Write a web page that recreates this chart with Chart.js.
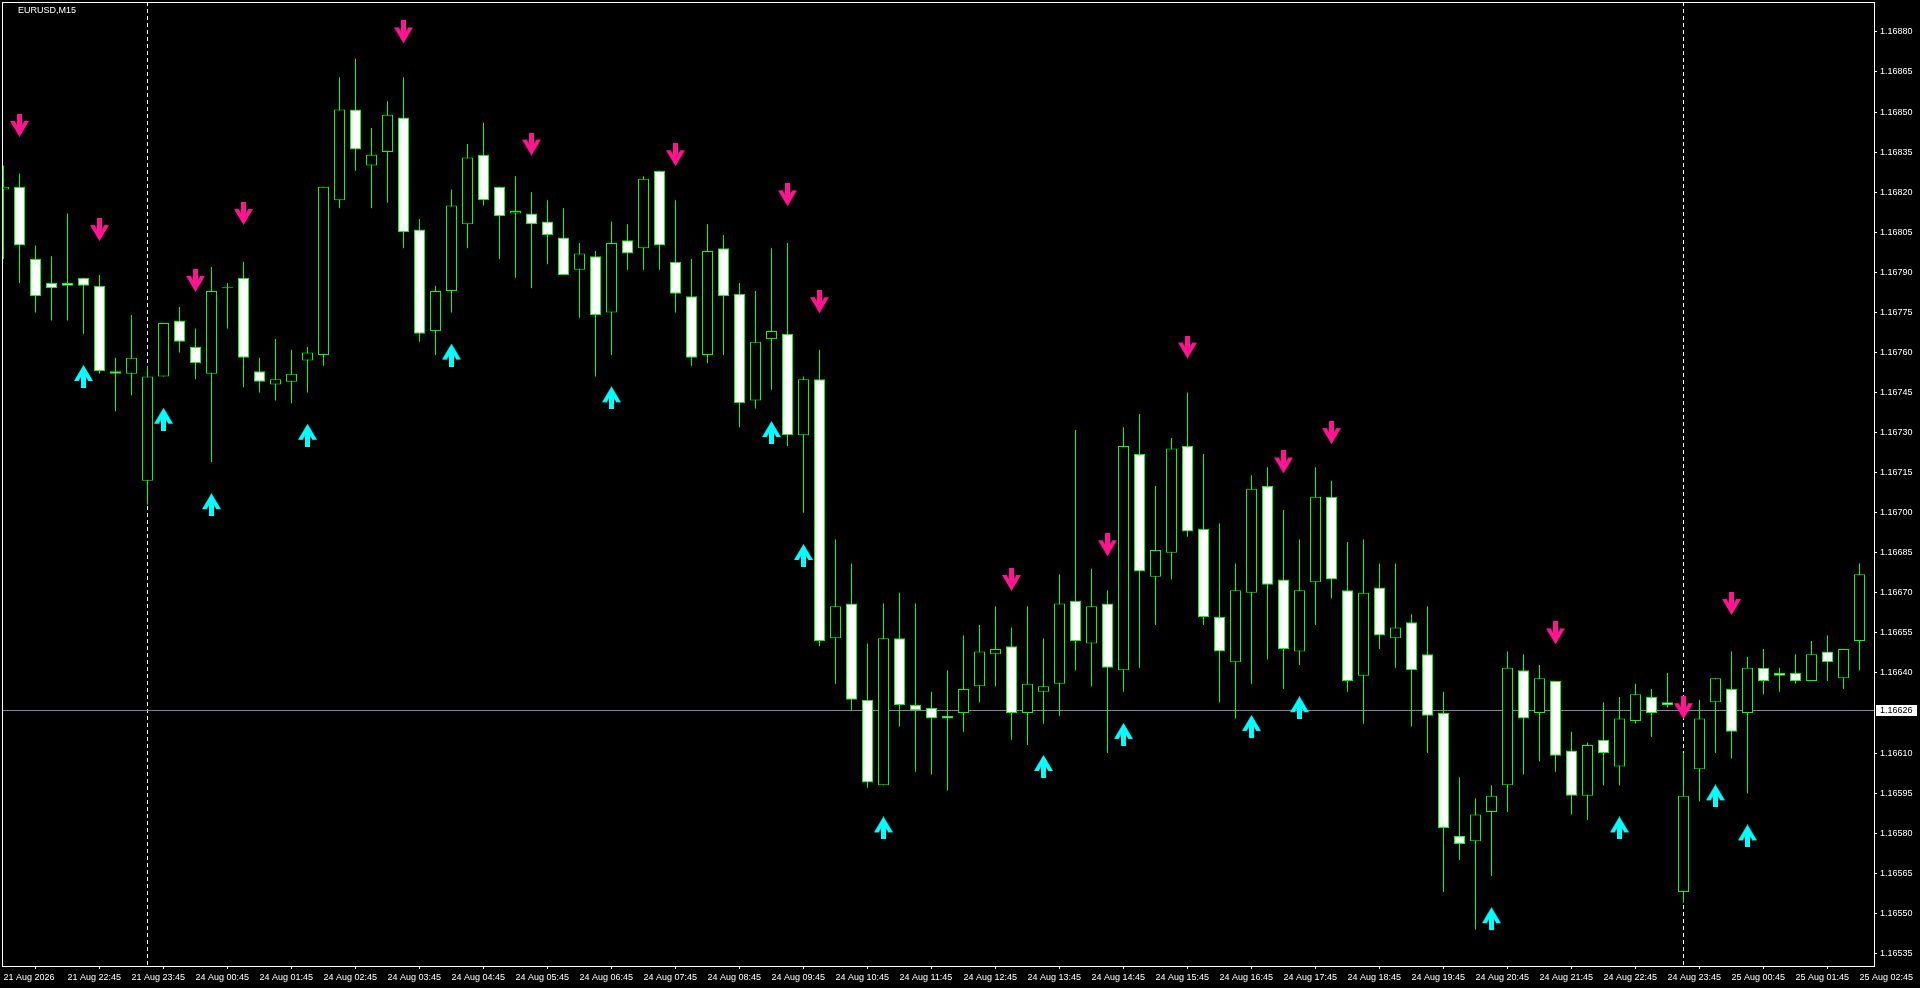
<!DOCTYPE html>
<html>
<head>
<meta charset="utf-8">
<title>EURUSD,M15</title>
<script src="https://cdn.jsdelivr.net/npm/chart.js@4.4.1/dist/chart.umd.min.js"></script>
<style>
  html, body { margin: 0; padding: 0; background: #000; overflow: hidden; }
  #wrap { width: 1920px; height: 988px; }
</style>
</head>
<body>
<div id="wrap"><canvas id="chart" width="1920" height="988"></canvas></div>
<script>
const symbolTitle = 'EURUSD,M15';

// one label every 4 bars (M15 -> hourly)
const timeLabels = ['21 Aug 2026', '21 Aug 22:45', '21 Aug 23:45', '24 Aug 00:45', '24 Aug 01:45', '24 Aug 02:45',
  '24 Aug 03:45', '24 Aug 04:45', '24 Aug 05:45', '24 Aug 06:45', '24 Aug 07:45', '24 Aug 08:45', '24 Aug 09:45',
  '24 Aug 10:45', '24 Aug 11:45', '24 Aug 12:45', '24 Aug 13:45', '24 Aug 14:45', '24 Aug 15:45', '24 Aug 16:45',
  '24 Aug 17:45', '24 Aug 18:45', '24 Aug 19:45', '24 Aug 20:45', '24 Aug 21:45', '24 Aug 22:45', '24 Aug 23:45',
  '25 Aug 00:45', '25 Aug 01:45', '25 Aug 02:45'];

const open = [1.16821, 1.16822, 1.16795, 1.16786, 1.16786, 1.16788, 1.16785, 1.16753, 1.16752, 1.16712,
  1.16751, 1.16772, 1.16762, 1.16752, 1.16784, 1.16788, 1.16753, 1.16748, 1.16749, 1.16757,
  1.16759, 1.16817, 1.16851, 1.16830, 1.16835, 1.16848, 1.16806, 1.16768, 1.16783, 1.16808,
  1.16834, 1.16822, 1.16812, 1.16812, 1.16809, 1.16803, 1.16791, 1.16796, 1.16775, 1.16802,
  1.16799, 1.16828, 1.16794, 1.16781, 1.16759, 1.16799, 1.16782, 1.16742, 1.16765, 1.16767,
  1.16729, 1.16750, 1.16653, 1.16666, 1.16630, 1.16598, 1.16653, 1.16628, 1.16627, 1.16624,
  1.16625, 1.16635, 1.16647, 1.16650, 1.16625, 1.16633, 1.16636, 1.16667, 1.16651, 1.16666,
  1.16641, 1.16722, 1.16676, 1.16685, 1.16725, 1.16694, 1.16661, 1.16644, 1.16670, 1.16710,
  1.16675, 1.16648, 1.16674, 1.16706, 1.16671, 1.16639, 1.16672, 1.16653, 1.16659, 1.16647,
  1.16625, 1.16579, 1.16577, 1.16588, 1.16598, 1.16641, 1.16625, 1.16637, 1.16611, 1.16594,
  1.16615, 1.16605, 1.16622, 1.16631, 1.16629, 1.16558, 1.16604, 1.16629, 1.16634, 1.16625,
  1.16642, 1.16640, 1.16640, 1.16637, 1.16648, 1.16638, 1.16652];

const high = [1.16830, 1.16827, 1.16800, 1.16796, 1.16812, 1.16788, 1.16789, 1.16758, 1.16774, 1.16755,
  1.16771, 1.16777, 1.16769, 1.16792, 1.16786, 1.16794, 1.16758, 1.16765, 1.16761, 1.16762,
  1.16822, 1.16863, 1.16870, 1.16844, 1.16854, 1.16863, 1.16810, 1.16785, 1.16821, 1.16838,
  1.16846, 1.16822, 1.16826, 1.16820, 1.16817, 1.16814, 1.16801, 1.16798, 1.16809, 1.16808,
  1.16826, 1.16828, 1.16817, 1.16795, 1.16808, 1.16804, 1.16786, 1.16783, 1.16799, 1.16801,
  1.16751, 1.16761, 1.16690, 1.16681, 1.16651, 1.16666, 1.16670, 1.16666, 1.16633, 1.16641,
  1.16654, 1.16658, 1.16665, 1.16657, 1.16665, 1.16653, 1.16677, 1.16731, 1.16679, 1.16671,
  1.16732, 1.16737, 1.16710, 1.16728, 1.16745, 1.16722, 1.16696, 1.16681, 1.16714, 1.16717,
  1.16701, 1.16690, 1.16717, 1.16712, 1.16689, 1.16690, 1.16681, 1.16681, 1.16662, 1.16665,
  1.16633, 1.16601, 1.16593, 1.16598, 1.16648, 1.16647, 1.16643, 1.16637, 1.16618, 1.16614,
  1.16629, 1.16631, 1.16636, 1.16634, 1.16640, 1.16610, 1.16630, 1.16638, 1.16648, 1.16646,
  1.16649, 1.16642, 1.16647, 1.16652, 1.16654, 1.16649, 1.16681];

const low = [1.16795, 1.16786, 1.16775, 1.16772, 1.16772, 1.16767, 1.16752, 1.16738, 1.16744, 1.16703,
  1.16751, 1.16760, 1.16750, 1.16719, 1.16769, 1.16747, 1.16745, 1.16742, 1.16741, 1.16745,
  1.16755, 1.16814, 1.16828, 1.16814, 1.16816, 1.16799, 1.16764, 1.16759, 1.16775, 1.16799,
  1.16815, 1.16795, 1.16788, 1.16784, 1.16793, 1.16789, 1.16773, 1.16751, 1.16759, 1.16791,
  1.16791, 1.16791, 1.16775, 1.16755, 1.16756, 1.16759, 1.16732, 1.16739, 1.16746, 1.16725,
  1.16700, 1.16650, 1.16636, 1.16626, 1.16597, 1.16598, 1.16620, 1.16603, 1.16602, 1.16596,
  1.16618, 1.16629, 1.16635, 1.16615, 1.16613, 1.16621, 1.16624, 1.16641, 1.16635, 1.16610,
  1.16633, 1.16642, 1.16658, 1.16675, 1.16691, 1.16658, 1.16629, 1.16623, 1.16636, 1.16645,
  1.16634, 1.16643, 1.16658, 1.16668, 1.16633, 1.16621, 1.16649, 1.16642, 1.16620, 1.16610,
  1.16558, 1.16570, 1.16544, 1.16564, 1.16588, 1.16602, 1.16607, 1.16603, 1.16587, 1.16585,
  1.16598, 1.16598, 1.16621, 1.16616, 1.16627, 1.16554, 1.16592, 1.16610, 1.16608, 1.16595,
  1.16632, 1.16633, 1.16636, 1.16637, 1.16637, 1.16634, 1.16641];

const close = [1.16822, 1.16800, 1.16781, 1.16784, 1.16785, 1.16785, 1.16753, 1.16752, 1.16758, 1.16751,
  1.16771, 1.16764, 1.16756, 1.16783, 1.16784, 1.16758, 1.16749, 1.16750, 1.16752, 1.16760,
  1.16822, 1.16851, 1.16836, 1.16834, 1.16849, 1.16805, 1.16767, 1.16783, 1.16815, 1.16833,
  1.16817, 1.16811, 1.16813, 1.16808, 1.16804, 1.16789, 1.16797, 1.16774, 1.16801, 1.16797,
  1.16825, 1.16800, 1.16782, 1.16758, 1.16798, 1.16781, 1.16741, 1.16764, 1.16768, 1.16729,
  1.16750, 1.16652, 1.16665, 1.16630, 1.16599, 1.16653, 1.16628, 1.16626, 1.16623, 1.16623,
  1.16634, 1.16648, 1.16649, 1.16625, 1.16636, 1.16635, 1.16666, 1.16652, 1.16665, 1.16642,
  1.16725, 1.16678, 1.16686, 1.16724, 1.16693, 1.16661, 1.16648, 1.16671, 1.16709, 1.16673,
  1.16649, 1.16671, 1.16706, 1.16675, 1.16637, 1.16670, 1.16654, 1.16657, 1.16641, 1.16624,
  1.16582, 1.16576, 1.16587, 1.16594, 1.16642, 1.16623, 1.16638, 1.16609, 1.16594, 1.16613,
  1.16610, 1.16623, 1.16632, 1.16625, 1.16628, 1.16594, 1.16623, 1.16638, 1.16618, 1.16642,
  1.16637, 1.16639, 1.16637, 1.16647, 1.16644, 1.16649, 1.16677];

// indicator arrows (bar index + price)
const downIdx = [1, 6, 12, 15, 25, 33, 42, 49, 51, 63, 69, 74, 80, 83, 97, 105, 108];
const downVal = [1.16845, 1.16806, 1.16787, 1.16812, 1.16880, 1.16838, 1.16834, 1.16819, 1.16779,
  1.16675, 1.16688, 1.16762, 1.16719, 1.16730, 1.16655, 1.16627, 1.16666];
const upIdx = [5, 10, 13, 19, 28, 38, 48, 50, 55, 65, 70, 78, 81, 93, 101, 107, 109];
const upVal = [1.16751, 1.16735, 1.16703, 1.16729, 1.16759, 1.16743, 1.16730, 1.16684, 1.16582,
  1.16605, 1.16617, 1.16620, 1.16627, 1.16548, 1.16582, 1.16594, 1.16579];

const priceTicks = [1.16535, 1.16550, 1.16565, 1.16580, 1.16595, 1.16610, 1.16640, 1.16655, 1.16670,
  1.16685, 1.16700, 1.16715, 1.16730, 1.16745, 1.16760, 1.16775, 1.16790, 1.16805, 1.16820,
  1.16835, 1.16850, 1.16865, 1.16880];
const bidPrice = 1.16626;
const separatorIdx = [9, 105];

// visible window
const yMin = 1.165303;
const yMax = 1.168912;
const xMin = -1.5 / 16;
const xMax = xMin + open.length;

const GREEN = '#00ff00';
const FONT = { family: 'Liberation Sans', size: 9 };

function makeArrow(color, pointsDown) {
  const c = document.createElement('canvas');
  c.width = 19;
  c.height = 23;
  const g = c.getContext('2d');
  let pts = [[7, 0], [12, 0], [12, 10.9], [14.3, 7], [19, 7], [9.5, 23], [0, 7], [4.7, 7], [7, 10.9]];
  if (!pointsDown) pts = pts.map(p => [p[0], 23 - p[1]]);
  g.fillStyle = color;
  g.beginPath();
  pts.forEach((p, k) => k ? g.lineTo(p[0], p[1]) : g.moveTo(p[0], p[1]));
  g.closePath();
  g.fill();
  return c;
}

const mtDecor = {
  id: 'mtDecor',
  beforeDraw(chart) {
    const ctx = chart.ctx;
    ctx.save();
    ctx.fillStyle = '#000';
    ctx.fillRect(0, 0, chart.width, chart.height);
    ctx.restore();
  },
  beforeDatasetsDraw(chart) {
    const { ctx, chartArea: a, scales } = chart;
    ctx.save();
    // period separators
    ctx.strokeStyle = '#ffffff';
    ctx.lineWidth = 1;
    ctx.setLineDash([4, 3]);
    separatorIdx.forEach(i => {
      const x = Math.round(scales.x.getPixelForValue(i) - 0.5) + 0.5;
      ctx.beginPath();
      ctx.moveTo(x, a.top);
      ctx.lineTo(x, a.bottom);
      ctx.stroke();
    });
    ctx.setLineDash([]);
    // bid line
    const yb = Math.round(scales.y.getPixelForValue(bidPrice)) + 0.5;
    ctx.strokeStyle = '#778899';
    ctx.beginPath();
    ctx.moveTo(a.left, yb);
    ctx.lineTo(a.right, yb);
    ctx.stroke();
    ctx.restore();
  },
  afterDraw(chart) {
    const { ctx, chartArea: a, scales } = chart;
    ctx.save();
    ctx.strokeStyle = '#ffffff';
    ctx.lineWidth = 1;
    ctx.strokeRect(a.left + 0.5, a.top + 0.5, a.right - a.left, a.bottom - a.top);
    ctx.font = '9px "Liberation Sans"';
    ctx.fillStyle = '#ffffff';
    ctx.textBaseline = 'alphabetic';
    ctx.fillText(symbolTitle, 18, 13);
    // bid price box on the axis
    const yb = Math.round(scales.y.getPixelForValue(bidPrice));
    ctx.fillRect(a.right + 2, yb - 5, 41, 11);
    ctx.fillStyle = '#000000';
    ctx.textBaseline = 'middle';
    ctx.fillText(bidPrice.toFixed(5), a.right + 6, yb + 0.5);
    ctx.restore();
  }
};

const ctx = document.getElementById('chart').getContext('2d');

new Chart(ctx, {
  type: 'bar',
  data: {
    datasets: [
      {
        type: 'scatter',
        label: 'Sell',
        order: 0,
        data: downIdx.map((x, k) => ({ x: x, y: downVal[k] })),
        pointStyle: makeArrow('#ff1493', true),
        pointRadius: 5
      },
      {
        type: 'scatter',
        label: 'Buy',
        order: 0,
        data: upIdx.map((x, k) => ({ x: x, y: upVal[k] })),
        pointStyle: makeArrow('#00ffff', false),
        pointRadius: 5
      },
      {
        label: 'Body',
        order: 1,
        data: open.map((o, i) => ({ x: i, y: [Math.min(o, close[i]), Math.max(o, close[i])] })),
        backgroundColor: open.map((o, i) => close[i] < o ? '#ffffff' : (close[i] > o ? '#000000' : GREEN)),
        borderColor: GREEN,
        borderWidth: 1,
        borderSkipped: false,
        barThickness: 11,
        minBarLength: 1,
        grouped: false,
        inflateAmount: 0
      },
      {
        label: 'Wick',
        order: 2,
        data: low.map((l, i) => ({ x: i, y: [l, high[i]] })),
        backgroundColor: GREEN,
        borderWidth: 0,
        barThickness: 1,
        grouped: false,
        inflateAmount: 0
      }
    ]
  },
  options: {
    responsive: false,
    animation: false,
    devicePixelRatio: 1,
    layout: { autoPadding: false, padding: { left: 2, top: 2, right: 0, bottom: 0 } },
    plugins: {
      legend: { display: false },
      tooltip: { enabled: false }
    },
    scales: {
      x: {
        type: 'linear',
        min: xMin,
        max: xMax,
        bounds: 'data',
        offset: false,
        afterBuildTicks: s => { s.ticks = timeLabels.map((t, k) => ({ value: k * 4 })); },
        afterFit: s => { s.height = 22; s.paddingLeft = 0; s.paddingRight = 0; },
        ticks: {
          autoSkip: false,
          maxRotation: 0,
          align: 'start',
          padding: 3,
          color: '#ffffff',
          font: FONT,
          callback: (v, k) => timeLabels[k]
        },
        grid: { drawOnChartArea: false, drawTicks: true, tickLength: 3, color: '#ffffff' },
        border: { display: false }
      },
      y: {
        type: 'linear',
        position: 'right',
        min: yMin,
        max: yMax,
        bounds: 'data',
        afterBuildTicks: s => { s.ticks = priceTicks.map(v => ({ value: v })); },
        afterFit: s => { s.width = 46; s.paddingTop = 0; s.paddingBottom = 0; },
        ticks: {
          autoSkip: false,
          padding: 3,
          color: '#ffffff',
          font: FONT,
          callback: v => v.toFixed(5)
        },
        grid: { drawOnChartArea: false, drawTicks: true, tickLength: 3, color: '#ffffff' },
        border: { display: false }
      }
    }
  },
  plugins: [mtDecor]
});
</script>
</body>
</html>
